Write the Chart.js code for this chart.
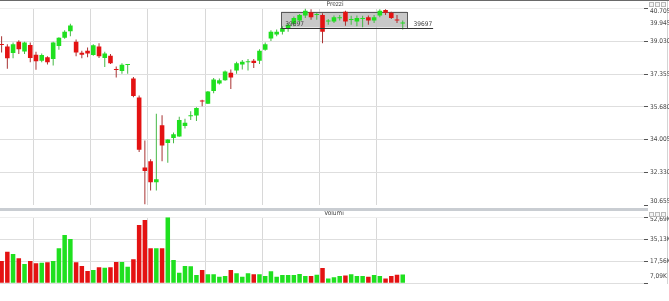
<!DOCTYPE html>
<html><head><meta charset="utf-8">
<script src="https://cdn.jsdelivr.net/npm/chart.js@4"></script>
<style>
html,body{margin:0;padding:0;background:#fff;width:669px;height:301px;overflow:hidden;position:relative}
canvas{position:absolute;left:0}
#c1{top:0}
#c2{top:211px}
.bar{position:absolute;left:0;width:669px}
.ico{position:absolute;width:5px;height:5px;border:1px solid #b8b8b8;background:#f4f4f4;box-sizing:border-box}
</style>
</head><body>
<div class="bar" style="top:0;height:1px;background:#6a6a6a"></div>
<div class="bar" style="top:208px;height:3px;width:648px;background:#c9cdd2"></div>
<div style="position:absolute;left:667px;top:1px;width:1px;height:283px;background:#d4d4d4"></div>
<canvas id="c1" width="669" height="211"></canvas>
<canvas id="c2" width="669" height="90"></canvas>
<div class="ico" style="left:649px;top:2px"></div><div class="ico" style="left:655px;top:2px"></div><div class="ico" style="left:661px;top:2px"></div>
<div class="ico" style="left:649px;top:212px"></div><div class="ico" style="left:655px;top:212px"></div><div class="ico" style="left:661px;top:212px"></div>
<script>
// ---- data ----
const OPEN  = [38.850,38.764,38.429,39.015,38.514,38.845,38.343,38.043,38.213,38.128,38.794,39.215,39.546,39.015,38.444,38.544,38.328,38.764,38.178,38.293,37.580,37.512,37.820,37.126,36.159,32.580,32.901,31.829,34.735,33.833,34.084,34.169,34.705,35.200,35.236,35.965,35.838,36.489,36.875,37.041,37.426,37.542,37.842,37.955,38.043,38.043,38.594,39.180,39.381,39.516,39.666,39.932,40.097,40.348,40.518,40.378,40.383,40.042,40.047,40.213,40.548,40.127,40.047,40.178,40.268,40.097,40.348,40.634,40.498,40.102,39.940];
const HIGH  = [39.296,38.880,38.965,39.080,39.015,38.965,38.494,38.414,38.263,39.015,39.245,39.596,39.932,39.130,38.544,38.714,38.880,38.930,38.494,38.379,37.742,37.912,37.830,37.211,36.259,33.954,33.002,35.322,35.256,34.020,34.370,35.171,35.071,35.457,35.657,36.038,36.489,37.161,37.126,37.542,37.592,37.993,38.078,38.128,38.128,38.629,38.965,39.596,39.631,39.797,39.967,40.298,40.433,40.705,40.669,40.498,40.468,40.168,40.348,40.383,40.599,40.333,40.348,40.333,40.348,40.383,40.669,40.669,40.548,40.383,40.097];
const LOW   = [38.464,37.627,38.163,38.379,38.379,37.963,37.577,37.963,37.842,37.792,38.594,39.165,39.296,38.263,38.163,38.213,38.293,38.178,37.712,37.877,37.176,37.376,37.376,36.174,33.367,30.696,31.398,31.398,32.901,32.816,33.818,34.154,34.570,35.006,34.956,35.707,35.823,36.374,36.825,37.010,36.590,37.376,37.592,37.542,37.662,37.877,38.544,39.045,39.296,39.381,39.516,39.797,39.932,40.218,40.132,40.132,38.930,39.882,39.967,40.097,39.832,39.882,39.797,39.747,39.882,39.967,40.268,40.383,40.168,39.967,39.631];
const CLOSE = [38.840,38.163,38.880,38.629,38.965,38.178,38.013,38.328,37.963,38.965,39.215,39.516,39.847,38.464,38.343,38.414,38.830,38.263,38.414,37.912,37.570,37.827,37.830,36.239,33.483,32.400,31.829,31.979,33.703,34.004,34.284,35.006,34.871,35.210,35.622,35.955,36.459,37.076,37.041,37.492,37.176,37.912,37.993,37.965,37.928,38.544,38.880,39.516,39.516,39.717,39.882,40.218,40.383,40.599,40.268,40.388,39.516,40.052,40.268,40.223,40.047,40.137,40.218,40.188,40.097,40.268,40.599,40.498,40.218,40.092,39.945];
const VOLUME = [17.8,25.2,23.4,20.0,15.4,17.8,16.0,16.5,16.8,17.8,27.9,38.6,35.4,16.8,13.8,9.8,10.6,12.8,12.5,12.8,17.0,17.0,13.3,19.2,46.5,50.5,27.9,27.9,27.9,52.69,18.6,8.5,13.8,13.6,6.6,10.6,7.2,7.2,5.3,5.8,10.6,8.0,5.3,8.0,7.2,7.2,5.8,9.6,5.3,6.6,6.6,6.6,7.5,5.9,5.8,6.9,12.2,3.9,4.8,5.8,6.3,7.2,5.9,5.9,5.3,6.6,5.8,3.9,5.9,6.9,7.09];
const PRICE_TICKS = [30.655,32.330,34.005,35.680,37.355,39.030,40.705];
const VOLUME_TICKS = [0,17.56,35.13,52.69];
const LAST_PRICE = 39.945;
const LAST_VOLUME = 7.09;
const LEVEL = 39.697;
const LEVEL_LABEL = '39697';
const BOX_X = [48.8, 70.75];
const BOX_Y = [39.74, 40.55];
const LEVEL_X = [48.8, 75.3];
const GRID_X = [0.5,10.5,20.5,30.5,40.5,50.5,60.5];
const X_MIN = -0.28, X_MAX = 112.1;
const TITLE_PRICE = 'Prezzi', TITLE_VOLUME = 'Volumi';

// ---- styles ----
const UP = '#1fe01f', DOWN = '#e41212', UP_WICK = '#45b845', DOWN_WICK = '#a83232';
const FONT = "'Liberation Sans Narrow','DejaVu Sans Condensed','Liberation Sans',sans-serif";
const TXT = '#444';
const IDX = OPEN.map((_, i) => i);
const isUp = i => CLOSE[i] >= OPEN[i];
const fmtP = v => v.toFixed(3);
const fmtV = v => v.toFixed(2).replace('.', ',') + 'K';

function xScale() {
  return {
    type: 'linear', min: X_MIN, max: X_MAX, offset: false,
    border: { display: false },
    grid: { color: '#d8d8d8', drawTicks: false },
    ticks: { display: false },
    afterBuildTicks: s => { s.ticks = GRID_X.map(v => ({ value: v })); },
    afterFit: s => { s.height = 0; }
  };
}
function yScale(min, max, ticks, fmt, edgeGrid) {
  return {
    position: 'right', min, max,
    border: { display: false },
    afterBuildTicks: s => { s.ticks = ticks.map(v => ({ value: v })); },
    afterFit: s => { s.width = 25; },
    grid: {
      color: c => edgeGrid(c.index) ,
      tickColor: '#555', tickLength: 4
    },
    ticks: {
      padding: 2, color: TXT, autoSkip: false,
      font: { size: 6.5, family: FONT },
      callback: (v, i) => (i === 0 || i === ticks.length - 1) ? '' : fmt(v)
    }
  };
}
function txt(ctx, s, x, y, align) {
  ctx.save();
  ctx.font = '6.5px ' + FONT;
  ctx.fillStyle = TXT;
  ctx.textAlign = align || 'left';
  ctx.textBaseline = 'middle';
  ctx.fillText(s, x, y);
  ctx.restore();
}

const pricePlugin = {
  id: 'priceOverlay',
  beforeDatasetsDraw(chart) {
    const { ctx, scales: { x, y } } = chart;
    const x0 = x.getPixelForValue(BOX_X[0]), x1 = x.getPixelForValue(BOX_X[1]);
    const y0 = y.getPixelForValue(BOX_Y[1]), y1 = y.getPixelForValue(BOX_Y[0]);
    ctx.save();
    ctx.fillStyle = 'rgba(190,190,190,0.85)';
    ctx.fillRect(x0, y0, x1 - x0, y1 - y0);
    ctx.strokeStyle = '#5a5a5a'; ctx.lineWidth = 1;
    ctx.strokeRect(Math.round(x0) + 0.5, Math.round(y0) + 0.5, Math.round(x1 - x0), Math.round(y1 - y0));
    ctx.restore();
  },
  afterDatasetsDraw(chart) {
    const { ctx, scales: { x, y } } = chart;
    const ly = Math.round(y.getPixelForValue(LEVEL)) + 0.5;
    const lx0 = x.getPixelForValue(LEVEL_X[0]), lx1 = x.getPixelForValue(LEVEL_X[1]);
    ctx.save();
    ctx.strokeStyle = '#333'; ctx.lineWidth = 1;
    ctx.beginPath(); ctx.moveTo(lx0, ly); ctx.lineTo(lx1, ly); ctx.stroke();
    ctx.restore();
    txt(ctx, LEVEL_LABEL, lx0 + 4, ly - 4);
    txt(ctx, LEVEL_LABEL, lx1 - 1, ly - 4, 'right');
  },
  afterDraw(chart) {
    const { ctx, scales: { y }, chartArea } = chart;
    const lx = chartArea.right + 6;
    txt(ctx, fmtP(PRICE_TICKS[PRICE_TICKS.length - 1]), lx, y.getPixelForValue(PRICE_TICKS[PRICE_TICKS.length - 1]) + 3);
    txt(ctx, fmtP(PRICE_TICKS[0]), lx, y.getPixelForValue(PRICE_TICKS[0]) - 4);
    txt(ctx, fmtP(LAST_PRICE), lx, y.getPixelForValue(LAST_PRICE));
    txt(ctx, TITLE_PRICE, 335, 4.5, 'center');
  }
};
const volPlugin = {
  id: 'volOverlay',
  afterDraw(chart) {
    const { ctx, scales: { y }, chartArea } = chart;
    const lx = chartArea.right + 6;
    txt(ctx, fmtV(VOLUME_TICKS[VOLUME_TICKS.length - 1]), lx, y.getPixelForValue(VOLUME_TICKS[VOLUME_TICKS.length - 1]) + 2);
    txt(ctx, fmtV(LAST_VOLUME), lx, y.getPixelForValue(LAST_VOLUME) + 2);
    txt(ctx, TITLE_VOLUME, 334, 2.5, 'center');
  }
};

const common = {
  responsive: false, animation: false, events: [],
  plugins: { legend: { display: false }, tooltip: { enabled: false } }
};

new Chart(document.getElementById('c1'), {
  type: 'bar',
  data: {
    datasets: [
      { data: IDX.map(i => ({ x: i, y: [Math.min(OPEN[i], CLOSE[i]), Math.max(OPEN[i], CLOSE[i])] })),
        backgroundColor: IDX.map(i => isUp(i) ? UP : DOWN), barThickness: 4.6, minBarLength: 1, inflateAmount: 0, grouped: false, order: 1 },
      { data: IDX.map(i => ({ x: i, y: [LOW[i], HIGH[i]] })),
        backgroundColor: IDX.map(i => isUp(i) ? UP_WICK : DOWN_WICK), barThickness: 1, inflateAmount: 0, grouped: false, order: 2 }
    ]
  },
  options: Object.assign({}, common, {
    layout: { padding: { top: 8.6, bottom: 2, left: 0, right: 0 } },
    scales: {
      x: xScale(),
      y: yScale(30.655, 40.705, PRICE_TICKS, fmtP, i => i === 0 ? 'rgba(0,0,0,0)' : (i === PRICE_TICKS.length - 1 ? '#eeeeee' : '#dedede'))
    }
  }),
  plugins: [pricePlugin]
});

new Chart(document.getElementById('c2'), {
  type: 'bar',
  data: {
    datasets: [
      { data: IDX.map(i => ({ x: i, y: VOLUME[i] })),
        backgroundColor: IDX.map(i => isUp(i) ? UP : DOWN), barThickness: 4.5, inflateAmount: 0 }
    ]
  },
  options: Object.assign({}, common, {
    layout: { padding: { top: 6.3, bottom: 17.7, left: 0, right: 0 } },
    scales: {
      x: xScale(),
      y: yScale(0, 52.69, VOLUME_TICKS, fmtV, i => i === VOLUME_TICKS.length - 1 ? '#eeeeee' : '#dedede')
    }
  }),
  plugins: [volPlugin]
});
</script>
</body></html>
